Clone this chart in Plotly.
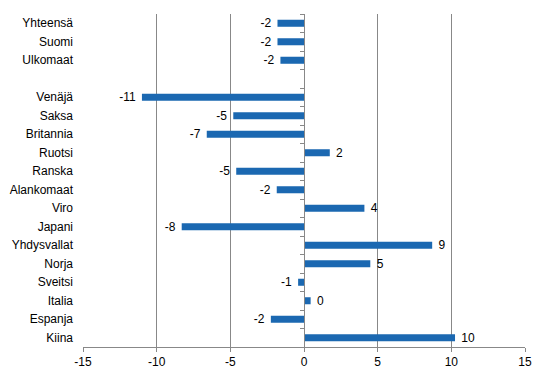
import plotly.graph_objects as go

categories = ["Yhteensä", "Suomi", "Ulkomaat", " ", "Venäjä", "Saksa", "Britannia",
              "Ruotsi", "Ranska", "Alankomaat", "Viro", "Japani", "Yhdysvallat",
              "Norja", "Sveitsi", "Italia", "Espanja", "Kiina"]
values = [-1.8, -1.8, -1.6, None, -11.0, -4.8, -6.6, 1.75, -4.6, -1.85, 4.1, -8.3,
          8.7, 4.5, -0.4, 0.45, -2.25, 10.25]
value_labels = ["-2", "-2", "-2", "", "-11", "-5", "-7", "2", "-5", "-2", "4", "-8",
                "9", "5", "-1", "0", "-2", "10"]
x_tick_values = [-15, -10, -5, 0, 5, 10, 15]
x_tick_labels = ["-15", "-10", "-5", "0", "5", "10", "15"]

NB = "\u00a0"
texts = []
for v, t in zip(values, value_labels):
    if v is None:
        texts.append("")
    elif v < 0:
        texts.append(t + NB)
    else:
        texts.append(NB + t)

boundaries = [i - 0.5 for i in range(len(categories) + 1)]

FONT = "Liberation Sans, Arial, sans-serif"
GRID = "#888888"

fig = go.Figure()
fig.add_trace(go.Bar(
    y=categories, x=values, orientation="h",
    marker=dict(color="#1b68b1", line=dict(width=0)),
    text=texts, textposition="outside", cliponaxis=False, constraintext="none",
    textfont=dict(family=FONT, size=12, color="#000000"),
    hoverinfo="skip",
))
# invisible helper trace so that the zero axis (with category boundary ticks) is drawn
fig.add_trace(go.Scatter(x=[0], y=[0], yaxis="y2", mode="markers",
                         marker=dict(opacity=0), hoverinfo="skip", showlegend=False))

# page has an 8px body margin, so the figure is sized to fit the window
fig.update_layout(
    width=538, height=368,
    margin=dict(l=75, r=21, t=6, b=29),
    paper_bgcolor="white", plot_bgcolor="white",
    showlegend=False,
    bargap=0.62,
    font=dict(family=FONT, size=12, color="#000000"),
    xaxis=dict(range=[-15, 15], tickvals=x_tick_values, ticktext=x_tick_labels,
               showgrid=True, gridcolor=GRID, gridwidth=1,
               zeroline=False, showline=True, linecolor=GRID, linewidth=1,
               ticks="outside", ticklen=4, tickcolor=GRID,
               tickfont=dict(family=FONT, size=12, color="#000000"),
               automargin=False, fixedrange=True),
    yaxis=dict(autorange="reversed", type="category", showgrid=False,
               zeroline=False, showline=False, ticks="",
               tickfont=dict(family=FONT, size=12, color="#000000"),
               ticklabelstandoff=9, automargin=False, fixedrange=True),
    yaxis2=dict(overlaying="y", anchor="free", position=0.5, side="left",
                range=[len(categories) - 0.5, -0.5], tickvals=boundaries,
                showticklabels=False, showgrid=False, zeroline=False,
                showline=True, linecolor=GRID, linewidth=1,
                ticks="outside", ticklen=4, tickcolor=GRID,
                automargin=False, fixedrange=True),
)

fig.write_html("out.html")
